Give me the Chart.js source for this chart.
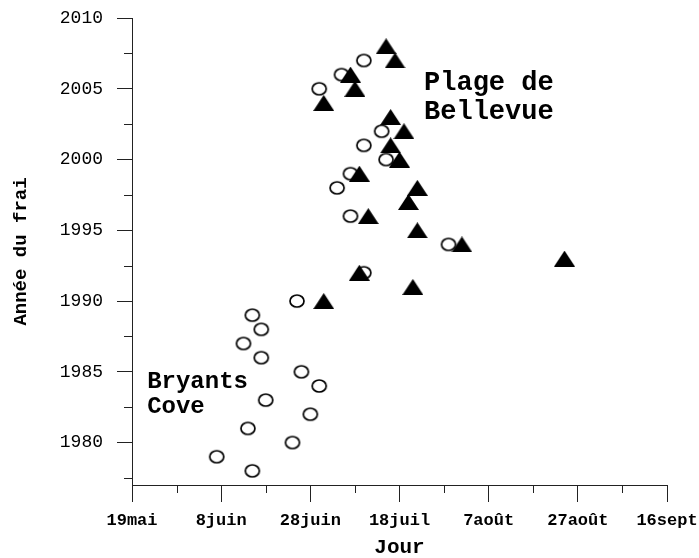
<!DOCTYPE html>
<html>
<head>
<meta charset="utf-8">
<script src="https://cdn.jsdelivr.net/npm/chart.js@4.4.1/dist/chart.umd.min.js"></script>
<style>
  html, body { margin: 0; padding: 0; background: #fff; }
  #wrap { width: 699px; height: 558px; }
</style>
</head>
<body>
<div id="wrap"><canvas id="frai" width="699" height="558"></canvas></div>
<script>
// Day of year (1 Jan = 1) on the horizontal axis, spawning year on the vertical one.
const dayTicks = [139, 159, 179, 199, 219, 239, 259];
const dayTickLabels = ['19mai', '8juin', '28juin', '18juil', '7août', '27août', '16sept'];
const yearTicks = [1980, 1985, 1990, 1995, 2000, 2005, 2010];

// Open circles
const circleYears = [1978, 1979, 1980, 1981, 1982, 1983, 1984, 1985, 1986, 1987, 1988, 1989,
                     1990, 1992, 1994, 1996, 1998, 1999, 2000, 2001, 2002, 2005, 2006, 2007];
const circleDays  = [166, 158, 175, 165, 179, 169, 181, 177, 168, 164, 168, 166,
                     176, 191, 210, 188, 185, 188, 196, 191, 195, 181, 186, 191];

// Filled triangles
const triangleYears = [1990, 1991, 1992, 1993, 1994, 1995, 1996, 1997, 1998, 1999,
                       2000, 2001, 2002, 2003, 2004, 2005, 2006, 2007, 2008];
const triangleDays  = [182, 202, 190, 236, 213, 203, 192, 201, 203, 190,
                       199, 197, 200, 197, 182, 189, 188, 198, 196];

const MONO = "'Liberation Mono', 'Courier New', monospace";

function triangleMark() {
  const c = document.createElement('canvas');
  c.width = 21; c.height = 16;
  const g = c.getContext('2d');
  g.fillStyle = '#000';
  g.beginPath();
  g.moveTo(10.5, 0);
  g.lineTo(21, 16);
  g.lineTo(0, 16);
  g.closePath();
  g.fill();
  return c;
}

function ringMark() {
  const c = document.createElement('canvas');
  c.width = 18; c.height = 16;
  const g = c.getContext('2d');
  g.strokeStyle = '#000';
  g.lineWidth = 1.7;
  g.beginPath();
  g.ellipse(9, 8, 7, 6, 0, 0, Math.PI * 2);
  g.stroke();
  return c;
}

const toPoints = (days, years) => days.map((d, i) => ({ x: d, y: years[i] }));

// Short minor ticks halfway between the labelled ones, plus the site names.
const extras = {
  id: 'extras',
  afterDraw(chart) {
    const { ctx, scales: { x, y } } = chart;
    ctx.save();
    ctx.strokeStyle = '#222';
    ctx.lineWidth = 1;
    ctx.beginPath();
    dayTicks.slice(1).forEach(v => {
      const px = Math.round(x.getPixelForValue(v - 10)) + 0.5;
      ctx.moveTo(px, y.bottom);
      ctx.lineTo(px, y.bottom + 8);
    });
    yearTicks.forEach(v => {
      const py = Math.round(y.getPixelForValue(v - 2.5)) + 0.5;
      ctx.moveTo(x.left, py);
      ctx.lineTo(x.left - 8, py);
    });
    ctx.stroke();

    ctx.fillStyle = '#000';
    ctx.textAlign = 'left';
    ctx.textBaseline = 'middle';
    ctx.font = `bold 27px ${MONO}`;
    const px1 = x.getPixelForValue(204.5), py1 = y.getPixelForValue(2005.4);
    ctx.fillText('Plage de', px1, py1);
    ctx.fillText('Bellevue', px1, py1 + 29);
    ctx.font = `bold 24px ${MONO}`;
    const px2 = x.getPixelForValue(142.4), py2 = y.getPixelForValue(1984.3);
    ctx.fillText('Bryants', px2, py2);
    ctx.fillText('Cove', px2, py2 + 25);
    ctx.restore();
  }
};

new Chart(document.getElementById('frai'), {
  type: 'scatter',
  data: {
    datasets: [
      {
        label: 'Plage de Bellevue',
        data: toPoints(triangleDays, triangleYears),
        pointStyle: triangleMark(),
        pointRadius: 8,
        order: 0
      },
      {
        label: 'Bryants Cove',
        data: toPoints(circleDays, circleYears),
        pointStyle: ringMark(),
        pointRadius: 8,
        order: 1
      }
    ]
  },
  options: {
    responsive: false,
    animation: false,
    events: [],
    layout: { padding: { left: 0, right: 32, top: 18, bottom: 0 } },
    plugins: { legend: { display: false }, tooltip: { enabled: false } },
    scales: {
      x: {
        type: 'linear',
        position: 'bottom',
        min: 139,
        max: 259,
        afterBuildTicks: s => { s.ticks = dayTicks.map(v => ({ value: v })); },
        afterFit: s => { s.height = 73; s.paddingLeft = 0; s.paddingRight = 0; },
        ticks: {
          autoSkip: false,
          maxRotation: 0,
          padding: 9,
          color: '#000',
          font: { family: MONO, size: 17, weight: 'bold' },
          callback: (v, i) => dayTickLabels[i]
        },
        grid: { drawOnChartArea: false, tickLength: 17, tickColor: '#222', tickWidth: 1 },
        border: { display: true, color: '#222', width: 1 },
        title: {
          display: true,
          text: 'Jour',
          color: '#000',
          font: { family: MONO, size: 21, weight: 'bold', lineHeight: 1 },
          padding: { top: 0, bottom: 0 }
        }
      },
      y: {
        type: 'linear',
        position: 'left',
        min: 1977,
        max: 2010,
        afterBuildTicks: s => { s.ticks = yearTicks.map(v => ({ value: v })); },
        afterFit: s => { s.width = 132; s.paddingTop = 0; s.paddingBottom = 0; },
        ticks: {
          padding: 14,
          color: '#000',
          font: { family: MONO, size: 18 },
          callback: v => String(v)
        },
        grid: { drawOnChartArea: false, tickLength: 15, tickColor: '#222', tickWidth: 1 },
        border: { display: true, color: '#222', width: 1 },
        title: {
          display: true,
          text: 'Année du frai',
          color: '#000',
          font: { family: MONO, size: 19, weight: 'bold', lineHeight: 1.2 },
          padding: { top: 10, bottom: 0 }
        }
      }
    }
  },
  plugins: [extras]
});
</script>
</body>
</html>
